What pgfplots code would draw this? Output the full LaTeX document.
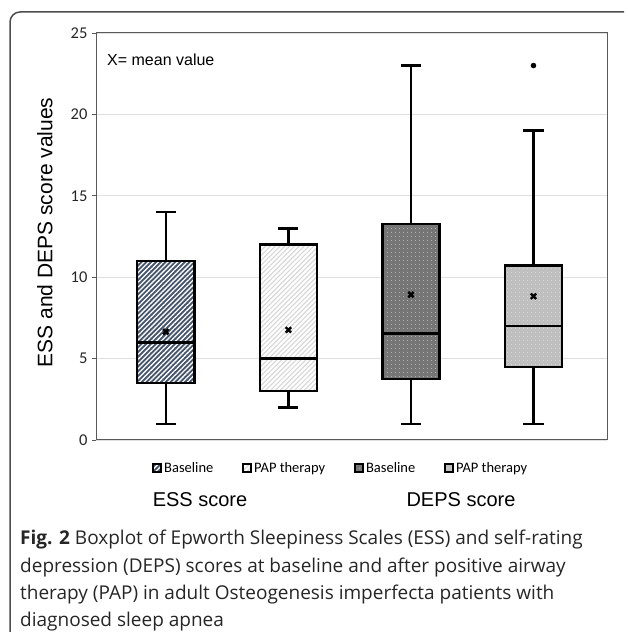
\documentclass[border=0pt]{standalone}
\usepackage{fontspec}
\setmainfont{Liberation Sans}
\newfontfamily\carlito{Carlito}
\newfontfamily\capfont{Open Sans}
\usepackage{pgfplots}
\pgfplotsset{compat=1.18}
\usepgfplotslibrary{statistics}
\usetikzlibrary{patterns.meta}
\definecolor{slate}{HTML}{44546A}
\definecolor{stripegray}{HTML}{D9D9D9}
\definecolor{darkbox}{HTML}{767676}
\definecolor{lightbox}{HTML}{BFBFBF}
\definecolor{framegray}{HTML}{4D4D4D}
\tikzset{
  pslate/.style={fill=slate, postaction={pattern={Lines[angle=45,distance=3.4pt,line width=1.3pt]}, pattern color=white}},
  pwhite/.style={fill=white, postaction={pattern={Lines[angle=45,distance=3.4pt,line width=1.2pt]}, pattern color=stripegray}},
  pdark/.style={fill=darkbox, postaction={pattern={Dots[distance=4pt,radius=0.45pt]}, pattern color=white!85!darkbox}},
  plight/.style={fill=lightbox, postaction={pattern={Dots[distance=4pt,radius=0.45pt]}, pattern color=white!85!lightbox}},
}
\begin{document}
\begin{tikzpicture}
\useasboundingbox (0pt,0pt) rectangle (627pt,632pt);
\draw[line width=1.5pt, color=framegray, rounded corners=10pt] (10pt,-2pt) -- (10pt,620pt) -- (624pt,620pt);
\begin{axis}[
  at={(96pt,192pt)}, anchor=south west,
  scale only axis, width=511pt, height=407pt,
  xmin=0.43, xmax=4.6, ymin=0, ymax=25,
  ytick={0,5,10,15,20,25}, xtick=\empty,
  ytick pos=left,
  ymajorgrids, grid style={draw=black!12, line width=0.8pt},
  axis line style={draw=black!65, line width=1pt},
  tick align=outside, major tick length=4pt,
  tick style={draw=black!65, line width=0.8pt},
  yticklabel style={xshift=-1pt},
  /pgf/number format/assume math mode=true,
  tick label style={font=\carlito\fontsize{16.5}{16.5}\selectfont, black!85},
  ylabel={ESS and DEPS score values},
  ylabel style={at={(axis description cs:-0.1,0.51)}, anchor=center, font=\fontsize{21}{21}\selectfont},
  boxplot/draw direction=y,
  boxplot/box extend=0.467,
  boxplot/whisker extend=0.164,
  boxplot/every average/.style={/tikz/mark=x, /tikz/mark size=3.8pt, /tikz/line width=2.6pt, /tikz/mark options={solid, line width=2.6pt, draw=black}},
  legend columns=4,
  legend cell align=left,
  legend style={draw=none, fill=none, at={(axis description cs:0.479,-0.069)}, anchor=center,
    font=\carlito\fontsize{14.5}{14.5}\selectfont,
    /tikz/every even column/.append style={column sep=27pt}},
]
\addplot[forget plot, draw=black, line width=2.4pt, boxplot/every box/.style={pslate},
  boxplot prepared={draw position=1, lower whisker=1, lower quartile=3.5, median=6, upper quartile=11, upper whisker=14, average=6.65}] coordinates {};
\addplot[forget plot, draw=black, line width=2.4pt, boxplot/every box/.style={pwhite},
  boxplot prepared={draw position=2, lower whisker=2, lower quartile=3, median=5, upper quartile=12, upper whisker=13, average=6.76}] coordinates {};
\addplot[forget plot, draw=black, line width=2.4pt, boxplot/every box/.style={pdark},
  boxplot prepared={draw position=3, lower whisker=1, lower quartile=3.75, median=6.55, upper quartile=13.27, upper whisker=23, average=8.93}] coordinates {};
\addplot[forget plot, draw=black, line width=2.4pt, mark=*, mark size=2.5pt, mark options={fill=black, draw=black, line width=0.5pt}, boxplot/every box/.style={plight},
  boxplot prepared={draw position=4, lower whisker=1, lower quartile=4.5, median=7, upper quartile=10.71, upper whisker=19, average=8.83}] coordinates {(0,23)};
\addlegendimage{legend image code/.code={\draw[black, line width=1.8pt, pslate] (0pt,-4pt) rectangle (8pt,4pt);}}
\addlegendentry{Baseline}
\addlegendimage{legend image code/.code={\draw[black, line width=1.8pt, pwhite] (0pt,-4pt) rectangle (8pt,4pt);}}
\addlegendentry{PAP therapy}
\addlegendimage{legend image code/.code={\draw[black, line width=1.8pt, pdark] (0pt,-4pt) rectangle (8pt,4pt);}}
\addlegendentry{Baseline}
\addlegendimage{legend image code/.code={\draw[black, line width=1.8pt, plight] (0pt,-4pt) rectangle (8pt,4pt);}}
\addlegendentry{PAP therapy}
\end{axis}
\node[anchor=west, font=\fontsize{16}{16}\selectfont, inner sep=0pt] at (107pt,572pt) {X= mean value};
\node[font=\fontsize{20}{20}\selectfont, inner sep=0pt] at (200pt,132pt) {ESS score};
\node[font=\fontsize{20}{20}\selectfont, inner sep=0pt] at (461pt,132pt) {DEPS score};
\begin{scope}[every node/.style={anchor=base west, inner sep=0pt, font=\capfont\fontsize{19}{19}\selectfont, color=black!85}]
\node at (20pt,87pt) {\textbf{Fig. 2} Boxplot of Epworth Sleepiness Scales (ESS) and self-rating};
\node at (20pt,59.5pt) {depression (DEPS) scores at baseline and after positive airway};
\node at (20pt,32pt) {therapy (PAP) in adult Osteogenesis imperfecta patients with};
\node at (20pt,5.5pt) {diagnosed sleep apnea};
\end{scope}
\end{tikzpicture}
\end{document}
